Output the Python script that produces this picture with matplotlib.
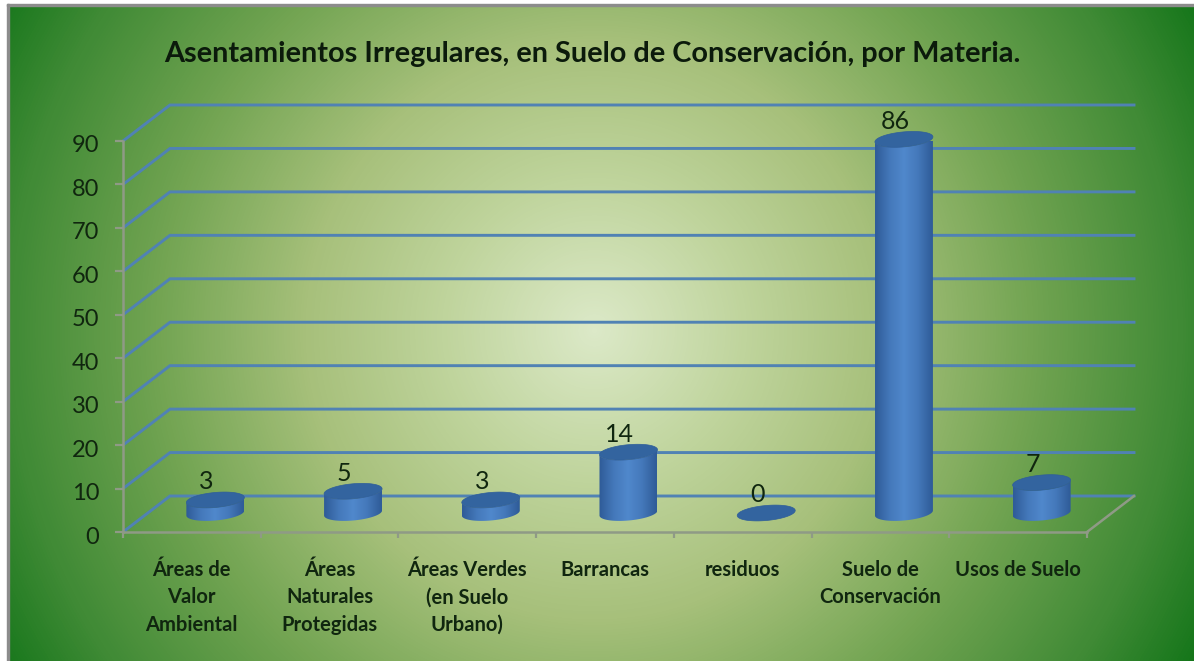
import numpy as np
import matplotlib
matplotlib.use('Agg')
import matplotlib.pyplot as plt
from matplotlib.colors import LinearSegmentedColormap
from matplotlib.patches import Polygon, Rectangle
from matplotlib.transforms import ScaledTranslation

categories = ['Áreas de\nValor\nAmbiental', 'Áreas\nNaturales\nProtegidas', 'Áreas Verdes\n(en Suelo\nUrbano)',
              'Barrancas', 'residuos', 'Suelo de\nConservación', 'Usos de Suelo']
values = [3, 5, 3, 14, 0, 86, 7]
y_ticks = [0, 10, 20, 30, 40, 50, 60, 70, 80, 90]

W, H = 1194, 661
plt.rcParams['font.family'] = ['Lato', 'DejaVu Sans']
TEXT = '#10260f'
AXIS_GRAY = '#8f9a86'
GRID_BLUE = '#5082b4'

fig = plt.figure(figsize=(W / 100, H / 100), dpi=100, facecolor='white')

# radial green background
bg = fig.add_axes([9 / W, 0, (W - 9) / W, (H - 6) / H], zorder=-1)
bg.axis('off')
xx, yy = np.meshgrid(np.arange(9, W), np.arange(6, H))
r = np.hypot(xx - 594, yy - 330) / np.hypot(600, 330)
bg_cmap = LinearSegmentedColormap.from_list(
    'bg', [(0, '#dce9c8'), (0.22, '#bfd49c'), (0.42, '#a7c07b'), (0.64, '#72a452'), (0.86, '#3f8a35'), (1, '#15761a')])
bg.imshow(r, cmap=bg_cmap, vmin=0, vmax=1, aspect='auto')

# thin frame on the left and top
fig.add_artist(Rectangle((7 / W, 0), 2 / W, (H - 4) / H, color='#8c8c8c', transform=fig.transFigure))
fig.add_artist(Rectangle((7 / W, (H - 6) / H), (W - 7) / W, 2 / H, color='#8c8c8c', transform=fig.transFigure))

# front plane of the chart
left, right, top, bottom = 123, 1087, 141, 532
ax = fig.add_axes([left / W, (H - bottom) / H, (right - left) / W, (bottom - top) / H])
ax.patch.set_alpha(0)
px_x = (right - left) / len(categories)
px_y = (bottom - top) / 90

# depth of the box, in data units
depth_x = 47 / px_x
depth_y = 36 / px_y

x_min, x_max = -0.5, len(categories) - 0.5

for v in y_ticks:
    ax.plot([x_min, x_min + depth_x, x_max + depth_x], [v, v + depth_y, v + depth_y],
            color=GRID_BLUE, lw=2.1, clip_on=False, zorder=1, solid_joinstyle='miter')
ax.plot([x_max, x_max + depth_x], [0, depth_y], color=AXIS_GRAY, lw=1.8, clip_on=False, zorder=1.5)

# cylinders
a = 29 / px_x
b = 7.5 / px_y
tilt = 2.5 / px_y
bar_cmap = LinearSegmentedColormap.from_list('bar', ['#2f5c98', '#4478ba', '#5088cc', '#4478ba', '#2f5c98'])
grad = np.linspace(0, 1, 64).reshape(1, -1)
t = np.linspace(0, 2 * np.pi, 121)

for i, v in enumerate(values):
    cx = i + 23.5 / px_x
    base = 19 / px_y
    ell_x = cx + a * np.cos(t)
    ell_y = b * np.sin(t) + tilt * np.cos(t)
    lower = t >= np.pi
    body_x = np.r_[ell_x[lower], ell_x[lower][::-1]]
    body_y = np.r_[ell_y[lower] + base, ell_y[lower][::-1] + base + v]
    body = Polygon(np.c_[body_x, body_y], closed=True, facecolor='none', edgecolor='none', zorder=2)
    ax.add_patch(body)
    if v > 0:
        im = ax.imshow(grad, cmap=bar_cmap, aspect='auto', zorder=2,
                       extent=(cx - a, cx + a, base - 2 * b, base + v + 2 * b))
        im.set_clip_path(body)
    ax.add_patch(Polygon(np.c_[ell_x, ell_y + base + v], closed=True, facecolor='#33649f',
                         edgecolor='#2f5e99', lw=0.5, zorder=3, clip_on=False))
    ax.annotate(str(v), (cx, base + v), xytext=(-9, 18), textcoords='offset pixels',
                ha='center', va='center', fontsize=18, color=TEXT, zorder=4, annotation_clip=False)

ax.set_xlim(x_min, x_max)
ax.set_ylim(0, 90)

ax.set_yticks(y_ticks)
ax.tick_params(axis='y', length=6, width=1.6, color=AXIS_GRAY, labelsize=17, labelcolor=TEXT, pad=11)
for label in ax.get_yticklabels():
    label.set_transform(label.get_transform() + ScaledTranslation(0, -3 / 100, fig.dpi_scale_trans))
ax.set_xticks(np.arange(len(categories) + 1) - 0.5)
ax.set_xticklabels([])
ax.tick_params(axis='x', which='major', length=4, width=1.6, color=AXIS_GRAY)
ax.set_xticks(np.arange(len(categories)), minor=True)
ax.set_xticklabels(categories, minor=True, fontsize=14.5, fontweight='bold', color=TEXT, linespacing=1.48)
ax.tick_params(axis='x', which='minor', length=0, pad=20)

for side in ['top', 'right']:
    ax.spines[side].set_visible(False)
for side in ['left', 'bottom']:
    ax.spines[side].set_color(AXIS_GRAY)
    ax.spines[side].set_linewidth(1.8)

fig.text(592 / W, 1 - 54 / H, 'Asentamientos Irregulares, en Suelo de Conservación, por Materia.',
         ha='center', va='center', fontsize=20.8, fontweight='bold', color='#0b1a0b')

fig.savefig('out.png', dpi=100)
